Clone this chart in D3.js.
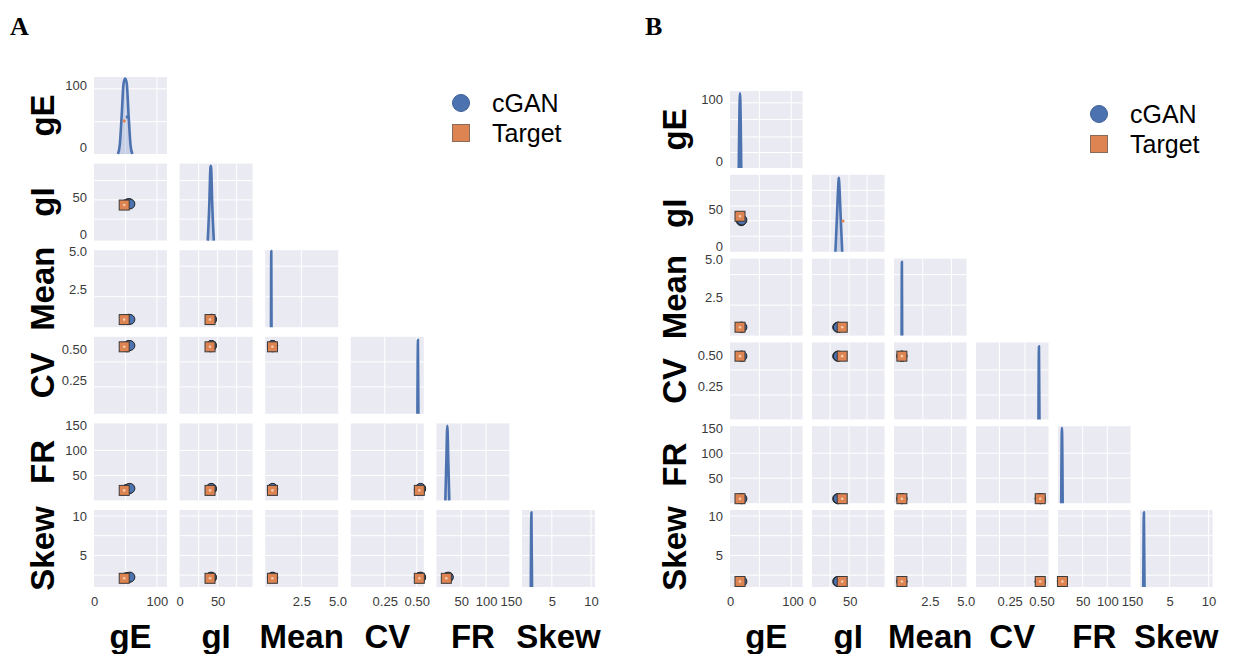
<!DOCTYPE html>
<html>
<head>
<meta charset="utf-8">
<script src="https://cdn.jsdelivr.net/npm/d3@7"></script>
<style>
  body { margin: 0; background: #fff; }
  .tick text { font-family: "Liberation Sans", Arial, sans-serif; font-size: 13px; fill: #3a3a3a; }
</style>
</head>
<body>
<div id="chartContainer"></div>
<script>
// variables of the pair grid, in row / column order
const variables = ["gE", "gI", "Mean", "CV", "FR", "Skew"];
const xDomains = [[0, 116], [0, 96], [0, 5.05], [-0.015, 0.555], [0, 147], [1.2, 10.5]];
const yDomains = [[-10, 114], [-8, 96], [0, 5.05], [-0.015, 0.6], [0, 154], [1, 10.75]];
const xTickLabels = [[0, 100], [0, 50], [2.5, 5.0], [0.25, 0.5], [50, 100, 150], [5, 10]];
const yTickLabels = [[0, 100], [0, 50], [2.5, 5.0], [0.25, 0.5], [50, 100, 150], [5, 10]];
const tickFormats = ["d", "d", ".1f", ".2f", "d", "d"];

// grid lines (data units) seen in each panel
const gridXA = [[50, 100], [25, 50, 75], [2.5], [0.25, 0.5], [50, 100], [5, 10]];
const gridYA = [[42, 95], [21, 47, 73], [2, 4], [0.2, 0.4], [50, 100], [2.5, 5, 7.5, 10]];
const gridXB = [[47, 98], [24, 49, 73], [2, 4], [0.17, 0.37], [50, 100], [5, 10]];
const gridYB = [[15, 40, 68, 95], [13, 34, 54, 75], [2, 4], [0.18, 0.38], [50, 100], [2.5, 5, 7.5, 10]];

// points: gE, gI, Mean, CV, FR, Skew
const cganA = [
  [52, 41, 0.5, 0.52, 22, 2.2],
  [55, 42, 0.52, 0.53, 23, 2.2],
  [57, 41.5, 0.51, 0.53, 24, 2.25]
];
const targetA = [[48, 40, 0.5, 0.52, 20, 2.1]];
const cganB = [
  [18, 34, 0.55, 0.49, 9, 1.7],
  [19, 35, 0.55, 0.49, 9, 1.7]
];
const targetB = [[16, 40, 0.55, 0.49, 9, 1.7]];

// diagonal KDE curves: [value, relative density]
const kdeA = [
  [[38, 0], [41, 0.12], [44, 0.5], [47, 0.92], [49.5, 0.98], [52, 0.92], [55, 0.5], [58, 0.12], [61, 0]],
  [[37, 0], [39, 0.45], [40.5, 0.94], [41, 0.97], [41.5, 0.94], [43, 0.45], [45, 0]],
  [[0.4, 0], [0.42, 0.99], [0.44, 0]],
  [[0.505, 0], [0.509, 0.96], [0.513, 0]],
  [[18, 0], [20, 0.5], [22, 0.97], [24, 0.5], [26, 0]],
  [[2.32, 0], [2.4, 0.97], [2.48, 0]]
];
const kdeB = [
  [[14, 0], [16, 0.97], [18, 0]],
  [[31, 0], [33, 0.45], [35, 0.9], [35.5, 0.96], [36, 0.9], [38, 0.45], [40, 0]],
  [[0.53, 0], [0.55, 0.96], [0.57, 0]],
  [[0.476, 0], [0.48, 0.95], [0.484, 0]],
  [[6.5, 0], [8, 0.98], [9.5, 0]],
  [[1.62, 0], [1.7, 0.97], [1.78, 0]]
];
// small spikes on the diagonal: [variable index, value, relative density]
const targetSpikeA = [[0, 48, 0.43]];
const cganSpikeA = [[0, 53, 0.48]];
const targetSpikeB = [[1, 41, 0.4]];
const cganSpikeB = [];

const legendNames = ["cGAN", "Target"];

const blue = "#4C72B0";
const orange = "#DD8452";

const panels = [
  { letter: "A", letterX: 10, x0: 94, y0: 77, dx: 85.6, dy: 86.6, w: 73, h: 77, rowLabelX: 54,
    legendX: 461, legendY: 103, cgan: cganA, target: targetA, kde: kdeA,
    tSpikes: targetSpikeA, cSpikes: cganSpikeA, gridX: gridXA, gridY: gridYA },
  { letter: "B", letterX: 645, x0: 730, y0: 91, dx: 82, dy: 83.8, w: 72.5, h: 77, rowLabelX: 686,
    legendX: 1099, legendY: 114, cgan: cganB, target: targetB, kde: kdeB,
    tSpikes: targetSpikeB, cSpikes: cganSpikeB, gridX: gridXB, gridY: gridYB }
];

const svg = d3.select("#chartContainer")
  .append("svg")
  .attr("width", 1248)
  .attr("height", 654);

function renderPanel(p) {
  const mainG = svg.append("g");

  // panel letter
  mainG.append("text")
    .attr("x", p.letterX)
    .attr("y", 35)
    .style("font-family", "'Liberation Serif', 'Times New Roman', serif")
    .style("font-weight", "bold")
    .style("font-size", "26px")
    .text(p.letter);

  variables.forEach((rowVar, i) => {
    variables.forEach((colVar, j) => {
      if (j > i) return;
      const cx = p.x0 + j * p.dx;
      const cy = p.y0 + i * p.dy;
      const g = mainG.append("g").attr("transform", `translate(${cx}, ${cy})`);

      const xScale = d3.scaleLinear().domain(xDomains[j]).range([0, p.w]);
      const yScale = d3.scaleLinear().domain(yDomains[i]).range([p.h, 0]);

      g.append("rect")
        .attr("width", p.w)
        .attr("height", p.h)
        .attr("fill", "#EAEAF2");

      // grid
      g.selectAll(".vgrid")
        .data(p.gridX[j])
        .enter()
        .append("line")
        .attr("x1", (d) => xScale(d))
        .attr("x2", (d) => xScale(d))
        .attr("y1", 0)
        .attr("y2", p.h)
        .attr("stroke", "#fff")
        .attr("stroke-width", 1);
      g.selectAll(".hgrid")
        .data(p.gridY[i])
        .enter()
        .append("line")
        .attr("y1", (d) => yScale(d))
        .attr("y2", (d) => yScale(d))
        .attr("x1", 0)
        .attr("x2", p.w)
        .attr("stroke", "#fff")
        .attr("stroke-width", 1);

      if (i === j) {
        // KDE on the diagonal
        const dScale = d3.scaleLinear().domain([0, 1]).range([p.h, 0]);
        const area = d3.area()
          .x((d) => xScale(d[0]))
          .y0(p.h)
          .y1((d) => dScale(d[1]))
          .curve(d3.curveMonotoneX);
        const line = d3.line()
          .x((d) => xScale(d[0]))
          .y((d) => dScale(d[1]))
          .curve(d3.curveMonotoneX);
        g.append("path")
          .datum(p.kde[i])
          .attr("d", area)
          .attr("fill", blue)
          .attr("fill-opacity", 0.22);
        g.append("path")
          .datum(p.kde[i])
          .attr("d", line)
          .attr("fill", "none")
          .attr("stroke", blue)
          .attr("stroke-width", 2.6)
          .attr("stroke-linejoin", "round");
        g.selectAll(".cspike")
          .data(p.cSpikes.filter((s) => s[0] === i))
          .enter()
          .append("circle")
          .attr("cx", (s) => xScale(s[1]))
          .attr("cy", (s) => dScale(s[2]))
          .attr("r", 1.8)
          .attr("fill", blue);
        g.selectAll(".tspike")
          .data(p.tSpikes.filter((s) => s[0] === i))
          .enter()
          .append("circle")
          .attr("cx", (s) => xScale(s[1]))
          .attr("cy", (s) => dScale(s[2]))
          .attr("r", 1.6)
          .attr("fill", orange);
      } else {
        // scatter: cGAN circles under Target squares
        g.selectAll(".cgan")
          .data(p.cgan)
          .enter()
          .append("circle")
          .attr("cx", (d) => xScale(d[j]))
          .attr("cy", (d) => yScale(d[i]))
          .attr("r", 5)
          .attr("fill", blue)
          .attr("stroke", "#222")
          .attr("stroke-width", 1);
        const tg = g.selectAll(".target")
          .data(p.target)
          .enter()
          .append("g")
          .attr("transform", (d) => `translate(${xScale(d[j])}, ${yScale(d[i])})`);
        tg.append("rect")
          .attr("x", -5)
          .attr("y", -5)
          .attr("width", 10)
          .attr("height", 10)
          .attr("fill", orange)
          .attr("stroke", "#3a3a3a")
          .attr("stroke-width", 1);
        tg.append("circle")
          .attr("r", 1.3)
          .attr("fill", "#f7cdb0");
      }

      // y tick labels on the first column
      if (j === 0) {
        const yAxis = d3.axisLeft(yScale)
          .tickValues(yTickLabels[i])
          .tickFormat(d3.format(tickFormats[i]))
          .tickSize(0)
          .tickPadding(7);
        g.append("g").call(yAxis).call((a) => a.select(".domain").remove());
      }
      // x tick labels on the last row
      if (i === variables.length - 1) {
        const xAxis = d3.axisBottom(xScale)
          .tickValues(xTickLabels[j])
          .tickFormat(d3.format(tickFormats[j]))
          .tickSize(0)
          .tickPadding(10);
        g.append("g")
          .attr("transform", `translate(0, ${p.h})`)
          .call(xAxis)
          .call((a) => a.select(".domain").remove());
      }
    });
  });

  // column labels
  mainG.selectAll(".colLabel")
    .data(variables)
    .enter()
    .append("text")
    .attr("x", (d, j) => p.x0 + j * p.dx + p.w / 2)
    .attr("y", 648)
    .attr("text-anchor", "middle")
    .style("font-family", "'Liberation Sans', Arial, sans-serif")
    .style("font-weight", "bold")
    .style("font-size", "33px")
    .text((d) => d);

  // row labels
  mainG.selectAll(".rowLabel")
    .data(variables)
    .enter()
    .append("text")
    .attr("transform", (d, i) => `translate(${p.rowLabelX}, ${p.y0 + i * p.dy + p.h / 2}) rotate(-90)`)
    .attr("text-anchor", "middle")
    .style("font-family", "'Liberation Sans', Arial, sans-serif")
    .style("font-weight", "bold")
    .style("font-size", "33px")
    .text((d) => d);

  // legend
  const lg = mainG.append("g").attr("transform", `translate(${p.legendX}, ${p.legendY})`);
  lg.append("circle")
    .attr("r", 8.5)
    .attr("fill", blue)
    .attr("stroke", "#3d5f96")
    .attr("stroke-width", 1);
  lg.append("rect")
    .attr("x", -8.5)
    .attr("y", 30 - 8.5)
    .attr("width", 17)
    .attr("height", 17)
    .attr("fill", orange)
    .attr("stroke", "#8a6a58")
    .attr("stroke-width", 1);
  lg.selectAll(".legendText")
    .data(legendNames)
    .enter()
    .append("text")
    .attr("x", 31)
    .attr("y", (d, k) => 9 + k * 30)
    .style("font-family", "'Liberation Sans', Arial, sans-serif")
    .style("font-size", "25px")
    .text((d) => d);
}

panels.forEach(renderPanel);
</script>
</body>
</html>
